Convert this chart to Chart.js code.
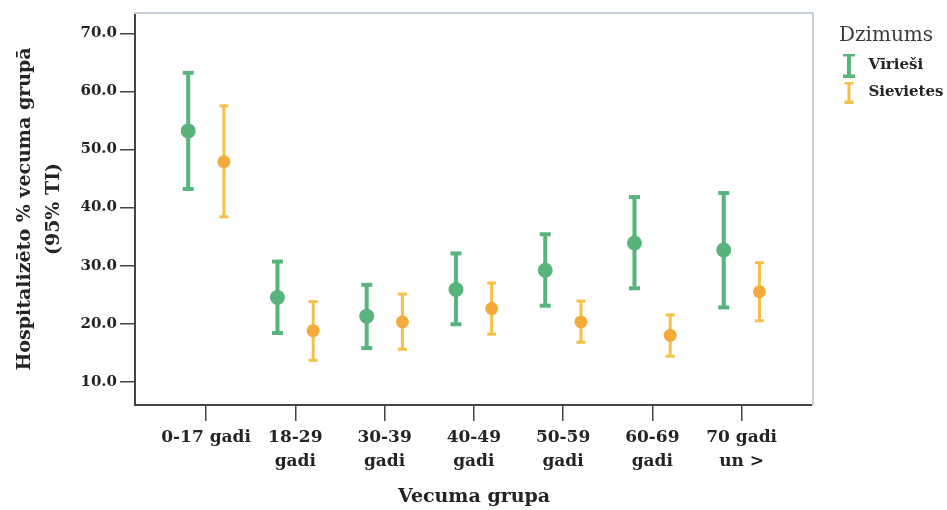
<!DOCTYPE html>
<html><head><meta charset="utf-8">
<script src="https://cdn.jsdelivr.net/npm/chart.js@4"></script>
<style>html,body{margin:0;padding:0;background:#fff}#wrap{width:947px;height:510px}</style>
</head><body><div id="wrap"><canvas id="c" width="947" height="510"></canvas></div>
<script>
const categories = ['0-17 gadi', ['18-29','gadi'], ['30-39','gadi'], ['40-49','gadi'], ['50-59','gadi'], ['60-69','gadi'], ['70 gadi','un >']];
const seriesNames = ['Vīrieši', 'Sievietes'];
const maleMean  = [53.2, 24.5, 21.3, 25.9, 29.2, 33.9, 32.7];
const maleLow   = [43.2, 18.4, 15.8, 19.9, 23.1, 26.1, 22.8];
const maleHigh  = [63.2, 30.7, 26.7, 32.1, 35.4, 41.8, 42.5];
const femaleMean = [47.9, 18.8, 20.3, 22.6, 20.3, 18.0, 25.5];
const femaleLow  = [38.4, 13.7, 15.6, 18.2, 16.8, 14.4, 20.5];
const femaleHigh = [57.5, 23.8, 25.1, 27.0, 23.9, 21.5, 30.5];
const yTicks = [10, 20, 30, 40, 50, 60, 70];

const FAM = "'DejaVu Serif', serif";
const TXT = '#242424';
const GREEN = '#58b47b';
const ORANGE_BAR = '#f6bf47';
const ORANGE_PT = '#f5aa3c';
const OFF = 0.2;

function pts(vals, off) { return vals.map((v, i) => ({x: i + off, y: v})); }
function whisk(lo, hi, off) {
  const d = [];
  lo.forEach((l, i) => { d.push({x: i + off, y: l}, {x: i + off, y: hi[i]}, {x: i + off, y: null}); });
  return d;
}
function icon(color, w, barW, capW, h) {
  const c = document.createElement('canvas');
  c.width = w; c.height = h;
  const g = c.getContext('2d');
  g.fillStyle = color;
  g.fillRect((w - barW) / 2, 0, barW, h);
  g.fillRect((w - capW) / 2, 0, capW, 3);
  g.fillRect((w - capW) / 2, h - 3, capW, 3);
  return c;
}
const icons = [icon(GREEN, 12, 4, 12, 24), icon(ORANGE_BAR, 10, 3, 9, 22)];

const datasets = [
  {label: seriesNames[0], data: pts(maleMean, -OFF), pointRadius: 7.5, pointBackgroundColor: GREEN, pointBorderWidth: 0, showLine: false},
  {label: seriesNames[1], data: pts(femaleMean, OFF), pointRadius: 6.5, pointBackgroundColor: ORANGE_PT, pointBorderWidth: 0, showLine: false},
  {label: 'm-ci', data: whisk(maleLow, maleHigh, -OFF), showLine: true, spanGaps: false, borderColor: GREEN, borderWidth: 4, pointRadius: 0},
  {label: 'f-ci', data: whisk(femaleLow, femaleHigh, OFF), showLine: true, spanGaps: false, borderColor: ORANGE_BAR, borderWidth: 3, pointRadius: 0},
  {label: 'm-cap', data: pts(maleLow, -OFF).concat(pts(maleHigh, -OFF)), showLine: false, pointStyle: 'line', pointRadius: 5.5, pointBorderColor: GREEN, pointBorderWidth: 4},
  {label: 'f-cap', data: pts(femaleLow, OFF).concat(pts(femaleHigh, OFF)), showLine: false, pointStyle: 'line', pointRadius: 4.5, pointBorderColor: ORANGE_BAR, pointBorderWidth: 3}
];

new Chart(document.getElementById('c'), {
  type: 'scatter',
  data: {datasets},
  options: {
    responsive: false,
    devicePixelRatio: 1,
    animation: false,
    layout: {padding: {left: 0, right: 0, top: 13, bottom: 0}},
    plugins: {
      tooltip: {enabled: false},
      legend: {
        position: 'right',
        align: 'start',
        maxWidth: 122,
        title: {display: true, text: 'Dzimums', position: 'center', color: '#3a3a3a',
                font: {family: FAM, size: 20, lineHeight: 1}, padding: {top: 13, bottom: 0}},
        labels: {
          usePointStyle: true, pointStyleWidth: 24, padding: 12,
          font: {family: FAM, size: 15, weight: 'bold'}, color: TXT,
          generateLabels: () => seriesNames.map((n, i) => ({
            text: n, pointStyle: icons[i], fillStyle: 'transparent', strokeStyle: 'transparent',
            lineWidth: 0, hidden: false, datasetIndex: i, fontColor: TXT
          }))
        }
      }
    },
    scales: {
      x: {
        type: 'linear', position: 'bottom', min: -0.796, max: 6.8,
        afterBuildTicks: a => { a.ticks = categories.map((_, i) => ({value: i})); },
        ticks: {callback: v => categories[v], font: {family: FAM, size: 17, weight: 'bold', lineHeight: 1.4},
                color: TXT, padding: 5, maxRotation: 0, autoSkip: false},
        grid: {display: true, drawOnChartArea: false, drawTicks: true, tickLength: 16, color: '#444', lineWidth: 1.5},
        border: {display: true, color: '#444', width: 2},
        title: {display: true, text: 'Vecuma grupa', color: TXT,
                font: {family: FAM, size: 19, weight: 'bold', lineHeight: 1.2}, padding: {top: 0, bottom: 2}},
        afterFit: s => { s.height = 105; }
      },
      y: {
        type: 'linear', position: 'left', min: 6, max: 73.5,
        afterBuildTicks: a => { a.ticks = yTicks.map(v => ({value: v})); },
        ticks: {callback: v => Number(v).toFixed(1), font: {family: FAM, size: 15, weight: 'bold'}, color: TXT, padding: 3},
        grid: {display: true, drawOnChartArea: false, drawTicks: true, tickLength: 15, color: '#444', lineWidth: 1.5},
        border: {display: true, color: '#444', width: 2},
        title: {display: true, text: ['Hospitalizēto % vecuma grupā', '(95% TI)'], color: TXT,
                font: {family: FAM, size: 19, weight: 'bold', lineHeight: 1.5}, padding: {top: 11, bottom: 0}},
        afterFit: s => { s.width = 135; }
      },
      yR: {
        type: 'linear', position: 'right', min: 6, max: 73.5,
        ticks: {display: false}, grid: {display: false, drawTicks: false},
        border: {display: true, color: '#c9d3de', width: 2},
        afterFit: s => { s.width = 12; }
      },
      xT: {
        type: 'linear', position: 'top', min: -0.796, max: 6.8,
        ticks: {display: false}, grid: {display: false, drawTicks: false},
        border: {display: true, color: '#c9d3de', width: 2},
        afterFit: s => { s.height = 0; }
      }
    }
  }
});
</script>
</body></html>
